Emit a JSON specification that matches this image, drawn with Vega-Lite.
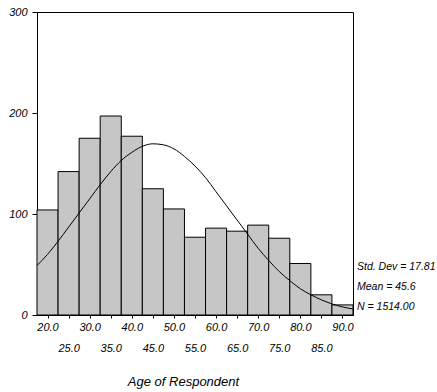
{
  "$schema": "https://vega.github.io/schema/vega-lite/v6.json",
  "width": 316,
  "height": 303,
  "autosize": {"type": "none"},
  "padding": {"left": 37, "top": 12, "right": 84, "bottom": 77},
  "background": "white",
  "config": {
    "view": {"stroke": "black", "strokeWidth": 1},
    "font": "Liberation Sans",
    "axis": {
      "domainColor": "black",
      "tickColor": "black",
      "labelColor": "black",
      "titleColor": "black",
      "labelFont": "Liberation Sans",
      "titleFont": "Liberation Sans",
      "labelFontStyle": "italic",
      "titleFontStyle": "italic",
      "titleFontWeight": "normal",
      "labelFontSize": 11,
      "grid": false
    }
  },
  "datasets": {
    "bins": [
      {"lo": 17.5, "hi": 22.5, "count": 104},
      {"lo": 22.5, "hi": 27.5, "count": 142},
      {"lo": 27.5, "hi": 32.5, "count": 175},
      {"lo": 32.5, "hi": 37.5, "count": 197},
      {"lo": 37.5, "hi": 42.5, "count": 177},
      {"lo": 42.5, "hi": 47.5, "count": 125},
      {"lo": 47.5, "hi": 52.5, "count": 105},
      {"lo": 52.5, "hi": 57.5, "count": 77},
      {"lo": 57.5, "hi": 62.5, "count": 86},
      {"lo": 62.5, "hi": 67.5, "count": 83},
      {"lo": 67.5, "hi": 72.5, "count": 89},
      {"lo": 72.5, "hi": 77.5, "count": 76},
      {"lo": 77.5, "hi": 82.5, "count": 51},
      {"lo": 82.5, "hi": 87.5, "count": 20},
      {"lo": 87.5, "hi": 92.5, "count": 10}
    ],
    "curve": [
      {"age": 17.5, "freq": 49},
      {"age": 20, "freq": 60},
      {"age": 22.5, "freq": 73},
      {"age": 25, "freq": 87},
      {"age": 27.5, "freq": 101},
      {"age": 30, "freq": 115},
      {"age": 32.5, "freq": 129},
      {"age": 35, "freq": 142},
      {"age": 37.5, "freq": 153},
      {"age": 40, "freq": 161},
      {"age": 42.5, "freq": 167},
      {"age": 45, "freq": 169.5},
      {"age": 47.5, "freq": 168.5},
      {"age": 50, "freq": 164.5},
      {"age": 52.5, "freq": 157},
      {"age": 55, "freq": 147.5},
      {"age": 57.5, "freq": 136},
      {"age": 60, "freq": 122},
      {"age": 62.5, "freq": 108},
      {"age": 65, "freq": 94},
      {"age": 67.5, "freq": 80},
      {"age": 70, "freq": 66},
      {"age": 72.5, "freq": 54},
      {"age": 75, "freq": 43},
      {"age": 77.5, "freq": 34},
      {"age": 80, "freq": 26},
      {"age": 82.5, "freq": 20},
      {"age": 85, "freq": 15},
      {"age": 87.5, "freq": 11},
      {"age": 90, "freq": 8},
      {"age": 92.5, "freq": 6}
    ],
    "stats": [
      {"sd": "17.81", "mean": "45.6", "n": "1514.00"}
    ]
  },
  "resolve": {"axis": {"x": "independent"}},
  "layer": [
    {
      "data": {"name": "bins"},
      "mark": {"type": "rect", "fill": "#c6c6c6", "stroke": "black", "strokeWidth": 1},
      "encoding": {
        "x": {
          "field": "lo",
          "type": "quantitative",
          "scale": {"domain": [17.5, 92.5], "nice": false, "zero": false},
          "axis": {
            "orient": "bottom",
            "title": "Age of Respondent",
            "titleFontSize": 13,
            "titleY": 66,
            "titleX": 146,
            "titleBaseline": "middle",
            "values": [20, 25, 30, 35, 40, 45, 50, 55, 60, 65, 70, 75, 80, 85, 90],
            "format": ".1f",
            "labelExpr": "datum.value % 10 == 0 ? datum.label : ''",
            "labelBaseline": "top",
            "tickSize": 3,
            "labelPadding": 3,
            "labelFlush": false,
            "labelOverlap": false,
            "labelBound": false
          }
        },
        "x2": {"field": "hi"},
        "y": {
          "field": "count",
          "type": "quantitative",
          "scale": {"domain": [0, 300], "nice": false},
          "axis": {
            "title": null,
            "values": [0, 100, 200, 300],
            "tickSize": 5,
            "labelPadding": 5
          }
        },
        "y2": {"datum": 0}
      }
    },
    {
      "data": {"name": "curve"},
      "mark": {"type": "line", "color": "black", "strokeWidth": 1, "interpolate": "monotone"},
      "encoding": {
        "x": {
          "field": "age",
          "type": "quantitative",
          "axis": {
            "orient": "bottom",
            "title": null,
            "domain": false,
            "ticks": false,
            "values": [25, 35, 45, 55, 65, 75, 85],
            "format": ".1f",
            "labelBaseline": "top",
            "labelPadding": 27,
            "labelFlush": false,
            "labelOverlap": false,
            "labelBound": false
          }
        },
        "y": {"field": "freq", "type": "quantitative"}
      }
    },
    {
      "data": {"name": "stats"},
      "mark": {
        "type": "text",
        "align": "left",
        "baseline": "middle",
        "dx": 4,
        "fontSize": 10.5,
        "fontStyle": "italic",
        "font": "Liberation Sans",
        "lineHeight": 20,
        "color": "black",
        "clip": false
      },
      "encoding": {
        "x": {"datum": 92.5, "type": "quantitative", "axis": null},
        "y": {"datum": 47.5, "type": "quantitative"},
        "text": {"value": ["Std. Dev = 17.81", "Mean = 45.6", "N = 1514.00"]}
      }
    }
  ]
}
